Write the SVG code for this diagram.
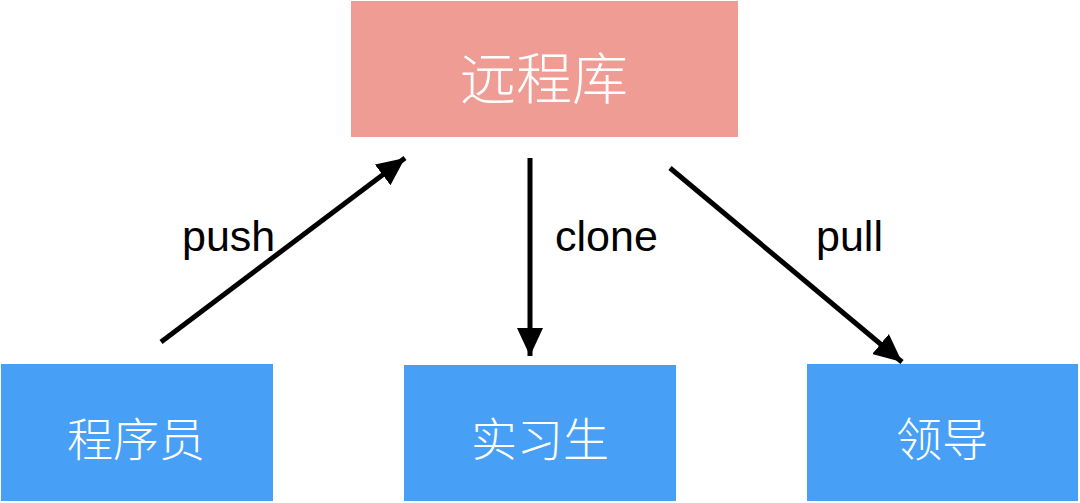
<svg xmlns="http://www.w3.org/2000/svg" width="1080" height="503" viewBox="0 0 1080 503">
<style>
.remote{fill:#EF9C94}
.local{fill:#47A0F5}
.cn{font-family:"Noto Sans CJK SC","Noto Sans",sans-serif;fill:#ffffff;text-anchor:middle;dominant-baseline:central;font-weight:300}
.lbl{font-family:"Liberation Sans",Arial,sans-serif;font-size:43px;fill:#000000}
.edge{stroke:#000;stroke-width:5;fill:none}
</style>
<defs>
<marker id="arrow" markerUnits="userSpaceOnUse" markerWidth="30" markerHeight="26" refX="28" refY="13" orient="auto">
<path d="M0,0 L28,13 L0,26 Z" fill="#000"/>
</marker>
</defs>
<rect width="1080" height="503" fill="#ffffff"/>
<g id="node-remote">
<rect class="remote" x="351" y="1" width="387" height="136"/>
<text class="cn" x="544" y="74" font-size="56">远程库</text>
</g>
<g id="node-programmer">
<rect class="local" x="1" y="364" width="272" height="137"/>
<text class="cn" x="136" y="436" font-size="46">程序员</text>
</g>
<g id="node-intern">
<rect class="local" x="404" y="365" width="272" height="136"/>
<text class="cn" x="540" y="436" font-size="46">实习生</text>
</g>
<g id="node-leader">
<rect class="local" x="807" y="364" width="271" height="137"/>
<text class="cn" x="942" y="436" font-size="46">领导</text>
</g>
<g id="connectors">
<line class="edge" x1="161" y1="342" x2="405" y2="158" marker-end="url(#arrow)"/>
<line class="edge" x1="530" y1="158" x2="530" y2="356" marker-end="url(#arrow)"/>
<line class="edge" x1="670" y1="168" x2="902" y2="362" marker-end="url(#arrow)"/>
<text class="lbl" x="182" y="251">push</text>
<text class="lbl" x="555" y="251">clone</text>
<text class="lbl" x="816" y="251">pull</text>
</g>
</svg>
